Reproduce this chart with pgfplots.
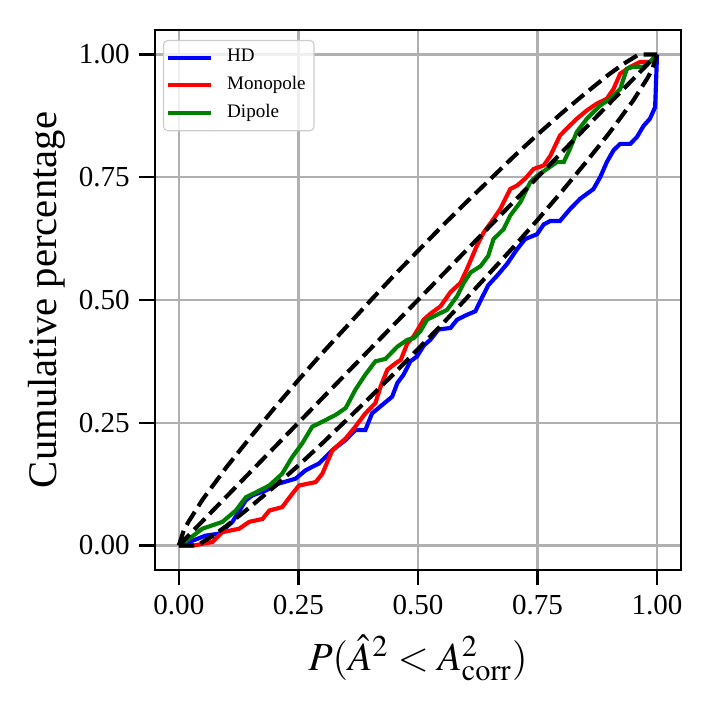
\documentclass[border=0pt]{standalone}
\usepackage{mathptmx}
\usepackage[no-math]{fontspec}
\setmainfont{Liberation Serif}
\usepackage{pgfplots}
\pgfplotsset{compat=1.18}
\definecolor{mplgreen}{RGB}{0,128,0}
\definecolor{gridgray}{HTML}{B0B0B0}
\begin{document}
\begin{tikzpicture}
\begin{axis}[
  scale only axis,
  width=190.07pt, height=195.13pt,
  xmin=-0.05, xmax=1.05, ymin=-0.05, ymax=1.05,
  xtick={0,0.25,0.5,0.75,1}, ytick={0,0.25,0.5,0.75,1},
  xticklabels={0.00,0.25,0.50,0.75,1.00},
  yticklabels={0.00,0.25,0.50,0.75,1.00},
  ticklabel style={font=\fontsize{10.5}{12}\selectfont},
  tick align=outside, major tick length=5.6pt,
  tick style={black, line width=0.8pt},
  xtick pos=bottom, ytick pos=left,
  grid=major, major grid style={color=gridgray, line width=0.8pt},
  axis line style={black, line width=1pt},
  xlabel={$P(\hat{A}^2 < A^2_{\mathrm{corr}})$},
  ylabel={Cumulative percentage},
  every axis x label/.style={at={(axis description cs:0.5,0)}, yshift=-31.8pt, anchor=center, font=\fontsize{14.4}{16}\selectfont},
  every axis y label/.style={at={(axis description cs:0,0.5)}, xshift=-39.2pt, rotate=90, anchor=center, font=\fontsize{14.7}{16}\selectfont},
  legend style={at={(axis description cs:0,1)}, anchor=north west, xshift=2.9pt, yshift=-3.6pt,
    font=\fontsize{6.9}{7.5}\selectfont, draw=black!20, rounded corners=1.5pt, fill=white, fill opacity=0.8, text opacity=1,
    inner xsep=1pt, inner ysep=1.2pt, row sep=-0.2pt, cells={anchor=west},
    /tikz/every odd column/.append style={column sep=3pt}},
  legend image code/.code={\draw[#1] (0pt,0pt) -- (15.5pt,0pt);},
]
\addplot[blue, line width=1.5pt] coordinates {
(0,0) (0.0215,0.007) (0.056,0.020) (0.084,0.024) (0.112,0.048) (0.140,0.092) (0.154,0.102) (0.182,0.112)
(0.209,0.126) (0.244,0.136) (0.265,0.153) (0.293,0.167) (0.321,0.194) (0.349,0.215) (0.369,0.235) (0.390,0.235)
(0.404,0.269) (0.425,0.286) (0.446,0.303) (0.457,0.331) (0.470,0.348) (0.484,0.375) (0.498,0.385) (0.512,0.407)
(0.526,0.419) (0.543,0.440) (0.568,0.443) (0.582,0.460) (0.603,0.470) (0.620,0.477) (0.634,0.505) (0.647,0.530)
(0.665,0.549) (0.686,0.573) (0.707,0.603) (0.724,0.624) (0.749,0.634) (0.763,0.654) (0.777,0.661) (0.797,0.661)
(0.818,0.685) (0.839,0.706) (0.867,0.726) (0.881,0.750) (0.895,0.781) (0.909,0.805) (0.923,0.818) (0.944,0.818)
(0.958,0.832) (0.972,0.855) (0.985,0.869) (0.996,0.893) (1.0,1.0)};
\addlegendentry{HD}
\addplot[red, line width=1.5pt] coordinates {
(0,0) (0.032,0) (0.07,0.007) (0.091,0.027) (0.126,0.034) (0.147,0.048) (0.175,0.054) (0.189,0.071) (0.216,0.078)
(0.237,0.105) (0.251,0.122) (0.286,0.129) (0.300,0.146) (0.321,0.194) (0.349,0.218) (0.369,0.242) (0.390,0.269)
(0.411,0.290) (0.422,0.324) (0.436,0.358) (0.453,0.371) (0.464,0.378) (0.478,0.412) (0.491,0.426) (0.512,0.460)
(0.526,0.472) (0.547,0.487) (0.568,0.516) (0.589,0.535) (0.602,0.562) (0.623,0.610) (0.637,0.637) (0.658,0.665)
(0.672,0.685) (0.693,0.726) (0.707,0.733) (0.724,0.747) (0.742,0.767) (0.763,0.774) (0.777,0.794) (0.797,0.835)
(0.811,0.849) (0.832,0.869) (0.853,0.886) (0.874,0.900) (0.895,0.910) (0.909,0.930) (0.923,0.961) (0.944,0.975)
(0.965,0.985) (0.985,0.985) (1.0,1.0)};
\addlegendentry{Monopole}
\addplot[mplgreen, line width=1.5pt] coordinates {
(0,0) (0.0215,0.0136) (0.049,0.034) (0.091,0.048) (0.119,0.071) (0.140,0.098) (0.161,0.108) (0.189,0.122)
(0.216,0.146) (0.237,0.180) (0.258,0.208) (0.279,0.242) (0.300,0.252) (0.328,0.266) (0.349,0.280) (0.369,0.317)
(0.390,0.348) (0.411,0.375) (0.432,0.380) (0.457,0.405) (0.478,0.419) (0.491,0.422) (0.505,0.436) (0.519,0.460)
(0.540,0.470) (0.561,0.480) (0.582,0.508) (0.596,0.535) (0.610,0.556) (0.631,0.569) (0.647,0.590) (0.658,0.624)
(0.679,0.644) (0.693,0.672) (0.714,0.699) (0.735,0.740) (0.749,0.753) (0.770,0.767) (0.791,0.781) (0.805,0.781)
(0.818,0.808) (0.832,0.842) (0.853,0.869) (0.881,0.896) (0.902,0.910) (0.923,0.930) (0.937,0.971) (0.951,0.975)
(0.972,0.975) (0.985,0.985) (1.0,1.0)};
\addlegendentry{Dipole}
\addplot[black, line width=1.5pt, dash pattern=on 5.55pt off 2.4pt, forget plot] coordinates {(0,0) (1,1)};
\addplot[black, line width=1.5pt, dash pattern=on 5.55pt off 2.4pt, forget plot] coordinates {
(0,0) (0.01,0.030) (0.02,0.048) (0.05,0.094) (0.10,0.160) (0.15,0.221) (0.20,0.280) (0.25,0.337) (0.30,0.392)
(0.35,0.445) (0.40,0.498) (0.45,0.550) (0.50,0.600) (0.55,0.650) (0.60,0.698) (0.65,0.745) (0.70,0.792)
(0.75,0.837) (0.80,0.880) (0.85,0.921) (0.90,0.960) (0.93,0.981) (0.96,0.999) (0.97,1.0) (1.0,1.0)};
\addplot[black, line width=1.5pt, dash pattern=on 5.55pt off 2.4pt, forget plot] coordinates {
(0,0) (0.03,0.0) (0.04,0.001) (0.07,0.019) (0.10,0.040) (0.15,0.079) (0.20,0.120) (0.25,0.163) (0.30,0.208)
(0.35,0.255) (0.40,0.302) (0.45,0.350) (0.50,0.400) (0.55,0.450) (0.60,0.502) (0.65,0.555) (0.70,0.608)
(0.75,0.663) (0.80,0.720) (0.85,0.779) (0.90,0.840) (0.95,0.906) (0.98,0.952) (0.99,0.970) (1.0,1.0)};
\end{axis}
\pgfresetboundingbox
\path[use as bounding box] (-56.0pt,-50.6pt) rectangle (200.55pt,205.97pt);
\end{tikzpicture}
\end{document}
